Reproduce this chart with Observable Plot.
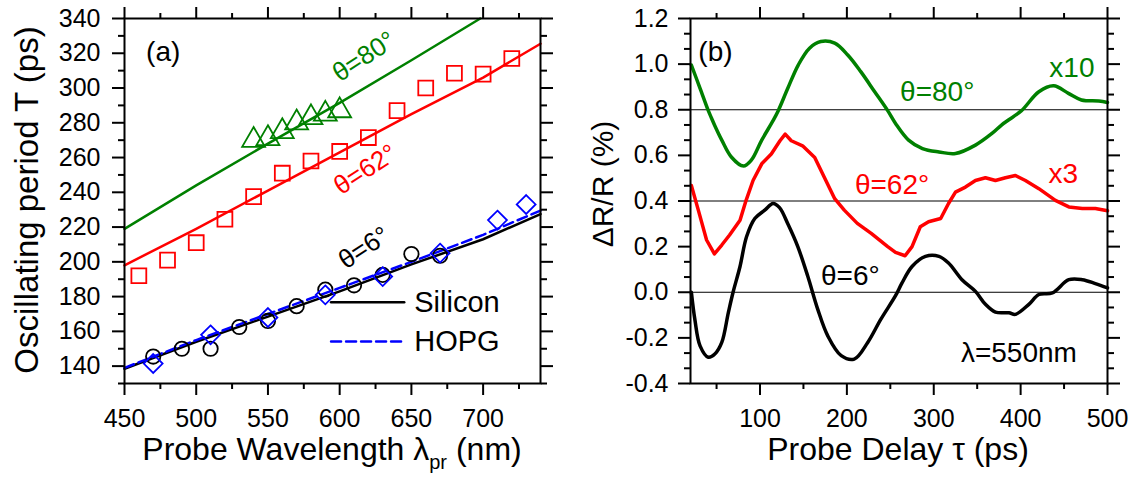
<!DOCTYPE html>
<html><head><meta charset="utf-8">
<script src="https://cdn.jsdelivr.net/npm/d3@7"></script>
<script src="https://cdn.jsdelivr.net/npm/@observablehq/plot@0.6"></script>
<style>
body{margin:0;background:#fff;}
#wrap{display:flex;width:1135px;height:477px;overflow:hidden;}
#wrap svg{display:block;flex:none;}
</style></head><body><div id="wrap"></div>
<script>
// ---------- Panel (a) data ----------
const wl80 = [540,550,560,570,580,590,600];
const T80  = [270,271,275,280,283,285,287];
const wl62 = [460,480,500,520,540,560,580,600,620,640,660,680,700,720];
const T62  = [192,201,211,224.5,237.5,251,258,263.5,271.5,287,300,308.5,308,317];
const wlSi = [470,490,510,530,550,570,590,610,630,650,670];
const TSi  = [145.5,150,150,162.5,166,174.5,184,186.5,192.5,204.5,203.5];
const wlHO = [470,510,550,590,630,670,710,730];
const THO  = [141.5,158,168,181,191.5,205,224,233];
const fit80Wl = [450,500,550,600,650,698];
const fit80T  = [219,244,268,291.5,316,340];
const fitWl   = [450,500,550,600,650,700,740];
const fit62T  = [198,219,241,263,285,306,325.5];
const fitSiT  = [138.5,154,168.5,183,198.5,213,227.5];
const fitHOT  = [139,155,170,185,200,215.5,229.5];
const xTicksA = [450,500,550,600,650,700];
const xMinorA = [475,525,575,625,675,725];
const yTicksA = [140,160,180,200,220,240,260,280,300,320,340];
const yMinorA = [130,150,170,190,210,230,250,270,290,310,330];
const annAtext = ["θ=80°","θ=62°","θ=6°"];
const annAwl   = [617,618,617];
const annAT    = [318,253,208];
const annAcol  = ["#008000","#ff0000","#000000"];
const legText = ["Silicon","HOPG"];
const legWl   = [594,645,652];
const legT    = [176.7,154.2];

// ---------- Panel (b) data ----------
const gT = [21,31,40.5,44,48,56,67,81,90,102,115,121,132,144,157,170,186,201,216,232,247,256,271,287,306,325,348,367,378,386,401,421,438,455,470,490,500];
const gV = [0.996,0.894,0.796,0.765,0.73,0.667,0.593,0.553,0.579,0.667,0.752,0.796,0.894,0.996,1.07,1.099,1.092,1.04,0.967,0.879,0.796,0.74,0.667,0.63,0.615,0.608,0.645,0.696,0.733,0.755,0.796,0.879,0.905,0.872,0.843,0.838,0.832];
const rT = [21,29,38.5,47.5,56,65,77,84,92,102,113,123,129,136,149,163,174,186,197,212,228,247,256,267,275,284.5,294,308,317,325,336.5,348,359.5,371,382.5,394,405.5,421,440,455.5,471,486,500];
const rV = [0.468,0.36,0.229,0.168,0.207,0.251,0.316,0.403,0.49,0.563,0.606,0.664,0.693,0.664,0.642,0.591,0.504,0.41,0.36,0.302,0.258,0.2,0.175,0.16,0.2,0.287,0.309,0.323,0.389,0.439,0.461,0.49,0.502,0.49,0.502,0.512,0.49,0.454,0.403,0.374,0.367,0.367,0.357];
const kT = [21,25,31,40.5,48,56,63.5,69,77,84.5,94,105.5,115,122.5,132,143.5,155,166.5,178,193.5,208.5,224,239,256,263.5,275,290.5,306,317,332.5,348,359.5,371,386.5,394,409.5,421,436.5,455.5,471,486,500];
const kV = [0.0,-0.119,-0.235,-0.285,-0.271,-0.22,-0.09,0.0,0.113,0.243,0.323,0.36,0.389,0.371,0.30,0.20,0.07,-0.075,-0.191,-0.278,-0.293,-0.22,-0.119,-0.015,0.041,0.113,0.157,0.157,0.128,0.055,0.004,-0.053,-0.087,-0.09,-0.097,-0.053,-0.01,-0.003,0.055,0.055,0.038,0.019];
const refLines = [0,0.4,0.8];
const xTicksB = [100,200,300,400,500];
const xMinorB = [50,150,250,350,450];
const yTicksB = [-0.4,-0.2,0,0.2,0.4,0.6,0.8,1.0,1.2];
const yMinorB = d3.range(-0.4,1.2001,0.2/3).filter(v => !yTicksB.some(t => Math.abs(t-v) < 1e-6));
const annBtext = ["(b)","θ=80°","x10","θ=62°","x3","θ=6°","λ=550nm"];
const annBt    = [48.7,304,459,252,449,204,398];
const annBv    = [1.053,0.878,0.983,0.471,0.519,0.069,-0.268];
const annBcol  = ["#000000","#008000","#008000","#ff0000","#ff0000","#000000","#000000"];

const FONT = "'Liberation Sans', Arial, sans-serif";
const zip = (a,b) => a.map((v,i)=>[v,b[i]]);
const blank = () => "";

function frameAxes(xT, xM, yT, yM, yFmt, padX, padY) {
  return [
    Plot.axisX({anchor:"bottom", ticks:xT, tickSize:12, tickPadding:padX, strokeWidth:2, fontSize:25, label:null}),
    Plot.axisX({anchor:"bottom", ticks:xM, tickSize:6, tickFormat:blank, strokeWidth:2, label:null}),
    Plot.axisX({anchor:"top", ticks:xT, tickSize:12, tickFormat:blank, strokeWidth:2, label:null}),
    Plot.axisX({anchor:"top", ticks:xM, tickSize:6, tickFormat:blank, strokeWidth:2, label:null}),
    Plot.axisY({anchor:"left", ticks:yT, tickSize:12, tickPadding:padY, strokeWidth:2, fontSize:25, tickFormat:yFmt, label:null}),
    Plot.axisY({anchor:"left", ticks:yM, tickSize:6, tickFormat:blank, strokeWidth:2, label:null}),
    Plot.axisY({anchor:"right", ticks:yT, tickSize:12, tickFormat:blank, strokeWidth:2, label:null}),
    Plot.axisY({anchor:"right", ticks:yM, tickSize:6, tickFormat:blank, strokeWidth:2, label:null}),
    Plot.frame({stroke:"black", strokeWidth:2})
  ];
}

const plotA = Plot.plot({
  width:567, height:477,
  marginLeft:124, marginRight:27, marginTop:18, marginBottom:94,
  style:{fontFamily:FONT, fontSize:"25px", color:"black", background:"white"},
  x:{domain:[450,740], label:null},
  y:{domain:[130,340], label:null},
  marks:[
    Plot.line(zip(fit80Wl, fit80T), {stroke:"#008000", strokeWidth:2.5}),
    Plot.line(zip(fitWl, fit62T), {stroke:"#ff0000", strokeWidth:2.5}),
    Plot.line(zip(fitWl, fitSiT), {stroke:"#000000", strokeWidth:2.5}),
    Plot.line(zip(fitWl, fitHOT), {stroke:"#0000ff", strokeWidth:2.5, strokeDasharray:"10,5"}),
    Plot.dot(zip(wl80, T80), {x:d=>d[0], y:d=>d[1], symbol:"triangle", r:8.5, stroke:"#008000", strokeWidth:1.8}),
    Plot.dot(zip(wl62, T62), {x:d=>d[0], y:d=>d[1], symbol:"square", r:8.4, stroke:"#ff0000", strokeWidth:1.8}),
    Plot.dot(zip(wlSi, TSi), {x:d=>d[0], y:d=>d[1], symbol:"circle", r:7.2, stroke:"#000000", strokeWidth:1.8}),
    Plot.dot(zip(wlHO, THO), {x:d=>d[0], y:d=>d[1], symbol:"diamond2", r:8.5, stroke:"#0000ff", strokeWidth:1.8}),
    Plot.text(annAtext, {x:annAwl, y:annAT, text:d=>d, fill:annAcol, rotate:-33, fontSize:26, textAnchor:"middle", lineAnchor:"middle"}),
    Plot.text(["(a)"], {x:[477], y:[320.6], text:d=>d, fontSize:28, textAnchor:"middle", lineAnchor:"middle"}),
    Plot.line([[legWl[0],legT[0]],[legWl[1],legT[0]]], {stroke:"#000000", strokeWidth:2.5}),
    Plot.line([[legWl[0],legT[1]],[legWl[1],legT[1]]], {stroke:"#0000ff", strokeWidth:2.5, strokeDasharray:"10,5"}),
    Plot.text(legText, {x:[legWl[2],legWl[2]], y:legT, text:d=>d, fontSize:29, textAnchor:"start", lineAnchor:"middle"}),
    ...frameAxes(xTicksA, xMinorA, yTicksA, yMinorA, d=>String(d), 14, 12)
  ]
});

const plotB = Plot.plot({
  width:568, height:477,
  marginLeft:123, marginRight:28, marginTop:18, marginBottom:94,
  style:{fontFamily:FONT, fontSize:"25px", color:"black", background:"white"},
  x:{domain:[20,500], label:null},
  y:{domain:[-0.4,1.2], label:null},
  marks:[
    Plot.ruleY(refLines, {stroke:"black", strokeWidth:1}),
    Plot.line(zip(gT, gV), {stroke:"#008000", strokeWidth:3.5, curve:"catmull-rom"}),
    Plot.line(zip(rT, rV), {stroke:"#ff0000", strokeWidth:3.5}),
    Plot.line(zip(kT, kV), {stroke:"#000000", strokeWidth:3.5, curve:"catmull-rom"}),
    Plot.text(annBtext, {x:annBt, y:annBv, text:d=>d, fill:annBcol, fontSize:28, textAnchor:"middle", lineAnchor:"middle"}),
    ...frameAxes(xTicksB, xMinorB, yTicksB, yMinorB, d=>d.toFixed(1), 14, 10)
  ]
});

const wrap = document.getElementById("wrap");
wrap.appendChild(plotA);
wrap.appendChild(plotB);

// axis titles
const sa = d3.select(plotA);
sa.append("text").attr("transform","translate(38,200) rotate(-90)")
  .attr("text-anchor","middle").attr("font-size",33).attr("font-family",FONT).attr("fill","black")
  .text("Oscillating period T (ps)");
const xa = sa.append("text").attr("x",332).attr("y",460)
  .attr("text-anchor","middle").attr("font-size",32).attr("font-family",FONT).attr("fill","black");
xa.append("tspan").text("Probe Wavelength λ");
xa.append("tspan").attr("font-size",20).attr("dy",9).text("pr");
xa.append("tspan").attr("dy",-9).text(" (nm)");

const sb = d3.select(plotB);
sb.append("text").attr("transform","translate(46,184) rotate(-90)")
  .attr("text-anchor","middle").attr("font-size",30).attr("font-family",FONT).attr("fill","black")
  .text("ΔR/R (%)");
sb.append("text").attr("x",331).attr("y",460)
  .attr("text-anchor","middle").attr("font-size",32).attr("font-family",FONT).attr("fill","black")
  .text("Probe Delay τ (ps)");
</script></body></html>
